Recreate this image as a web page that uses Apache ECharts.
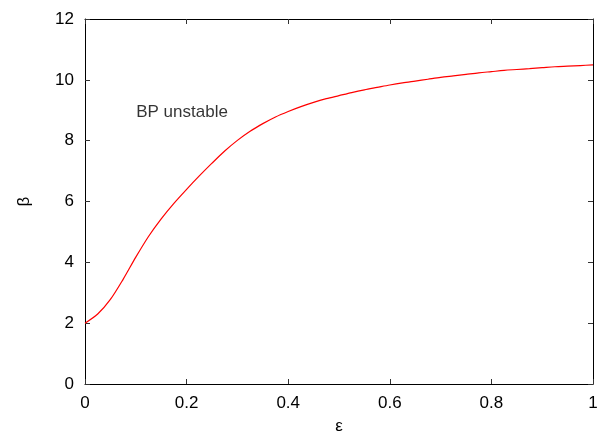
<!DOCTYPE html>
<html>
<head>
<meta charset="utf-8">
<script src="https://cdn.jsdelivr.net/npm/echarts@6/dist/echarts.min.js"></script>
<style>html,body{margin:0;padding:0;background:#fff}#c{width:606px;height:434px}</style>
</head>
<body>
<div id="c"></div>
<script>
var epsilon = [0, 0.025, 0.05, 0.075, 0.1, 0.125, 0.15, 0.175, 0.2, 0.225, 0.25, 0.275, 0.3, 0.325, 0.35, 0.375, 0.4, 0.425, 0.45, 0.475, 0.5, 0.525, 0.55, 0.575, 0.6, 0.625, 0.65, 0.675, 0.7, 0.725, 0.75, 0.775, 0.8, 0.825, 0.85, 0.875, 0.9, 0.925, 0.95, 0.975, 1.0];
var beta = [2.00, 2.30, 2.78, 3.44, 4.17, 4.85, 5.43, 5.94, 6.40, 6.84, 7.26, 7.66, 8.01, 8.31, 8.56, 8.78, 8.96, 9.12, 9.26, 9.38, 9.48, 9.58, 9.67, 9.75, 9.83, 9.90, 9.96, 10.02, 10.08, 10.13, 10.18, 10.23, 10.27, 10.31, 10.34, 10.37, 10.40, 10.43, 10.45, 10.47, 10.49];
var xTicks = [0, 0.2, 0.4, 0.6, 0.8, 1];
var yTicks = [0, 2, 4, 6, 8, 10, 12];
var annotations = [{ text: 'BP unstable', eps: 0.191, beta: 8.92 }];

var font = 'Liberation Sans, Arial, Helvetica, sans-serif';
var chart = echarts.init(document.getElementById('c'), null, { renderer: 'canvas' });
var lineData = epsilon.map(function (e, i) { return [e, beta[i]]; });

function fmt(v) { return String(Math.round(v * 10) / 10); }

var axisBase = {
  type: 'value',
  axisLine: { show: true, onZero: false, lineStyle: { color: '#000', width: 1 } },
  axisTick: { show: true, inside: true, length: 5, lineStyle: { color: '#333', width: 1 } },
  splitLine: { show: false },
  axisLabel: { show: false }
};

chart.setOption({
  animation: false,
  grid: { left: 85, right: 13, top: 19, bottom: 50, containLabel: false, outerBoundsMode: 'none' },
  xAxis: [
    Object.assign({}, axisBase, {
      position: 'bottom', min: 0, max: 1, interval: 0.2,
      name: 'ε', nameLocation: 'middle', nameGap: 34,
      nameTextStyle: { fontFamily: font, fontSize: 17, color: '#000' },
      axisLabel: { show: true, margin: 11, fontFamily: font, fontSize: 17, color: '#000',
        formatter: function (v) { return xTicks.indexOf(Math.round(v * 10) / 10) >= 0 ? fmt(v) : ''; } }
    }),
    Object.assign({}, axisBase, { position: 'top', min: 0, max: 1, interval: 0.2 })
  ],
  yAxis: [
    Object.assign({}, axisBase, {
      position: 'left', min: 0, max: 12, interval: 2,
      name: 'β', nameLocation: 'middle', nameGap: 52, nameRotate: 90,
      nameTextStyle: { fontFamily: font, fontSize: 17, color: '#000' },
      axisLabel: { show: true, margin: 11, fontFamily: font, fontSize: 17, color: '#000',
        formatter: function (v) { return yTicks.indexOf(v) >= 0 ? String(v) : ''; } }
    }),
    Object.assign({}, axisBase, { position: 'right', min: 0, max: 12, interval: 2 })
  ],
  series: [
    {
      type: 'line', xAxisIndex: 0, yAxisIndex: 0,
      data: lineData, smooth: 0.3, showSymbol: false, symbol: 'none',
      lineStyle: { color: '#ff0000', width: 1.2 }
    },
    {
      type: 'scatter', xAxisIndex: 0, yAxisIndex: 0,
      data: annotations.map(function (a) { return { value: [a.eps, a.beta], name: a.text }; }),
      symbolSize: 0, silent: true,
      label: { show: true, position: 'inside', formatter: '{b}', fontFamily: font, fontSize: 17, color: '#000' }
    }
  ]
});
</script>
</body>
</html>
